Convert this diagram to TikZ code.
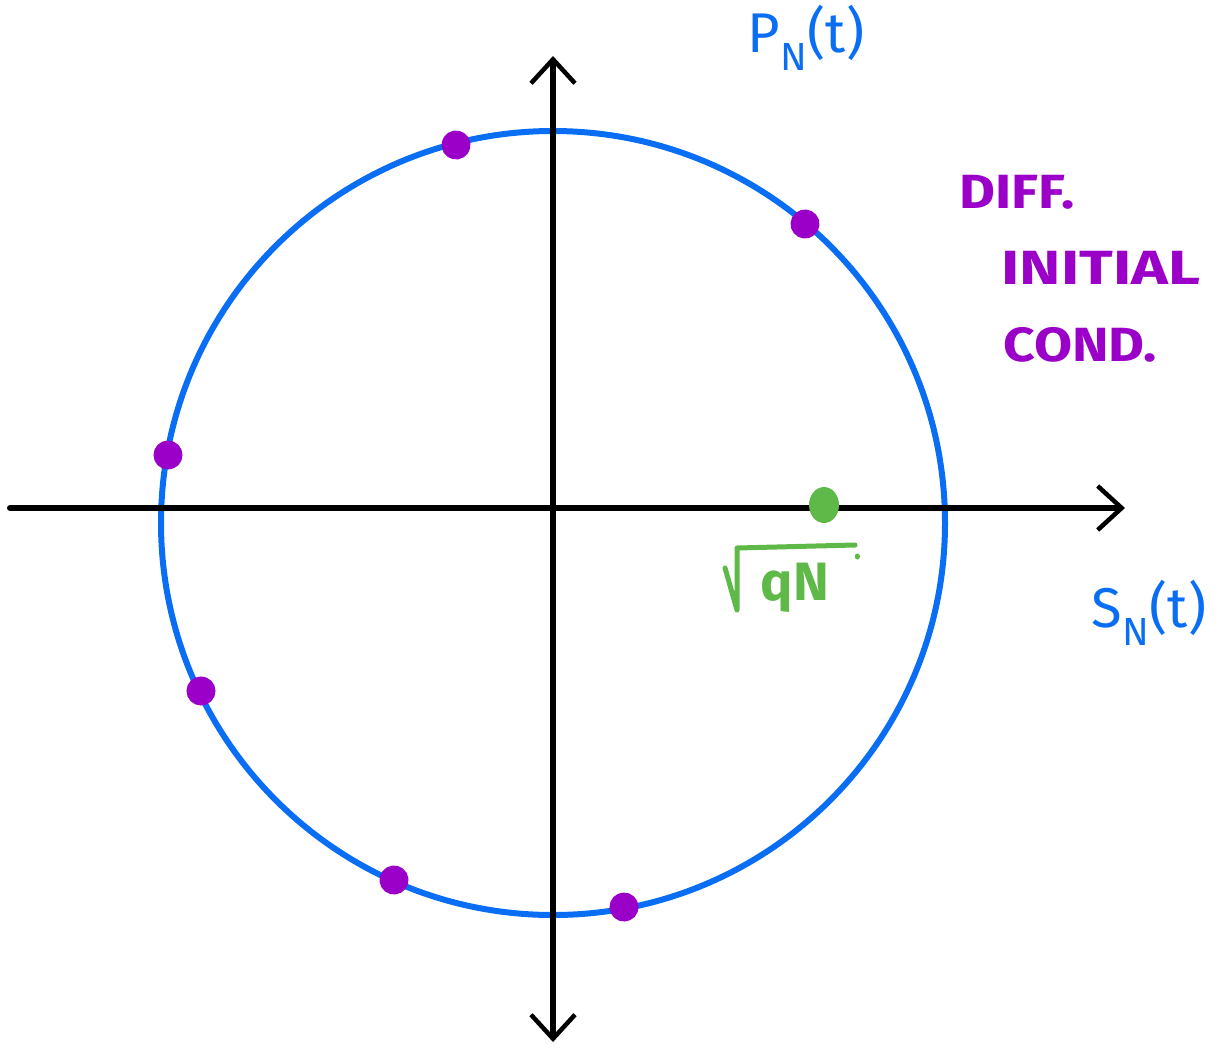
\documentclass[tikz,border=0pt]{standalone}
\usepackage{fontspec}
\usepackage{graphicx}
\setmainfont{Fira Sans}
\usetikzlibrary{arrows.meta,shapes.geometric}
\definecolor{penblue}{RGB}{10,110,245}
\definecolor{penpurple}{RGB}{155,0,200}
\definecolor{pengreen}{RGB}{95,185,72}
\tikzset{
  axis/.style={line width=6pt, black, line cap=round, -{Straight Barb[length=24pt,width=44pt,line width=4.5pt]}},
  ring/.style={line width=6pt, penblue},
  dot/.style={circle, fill=penpurple, draw=penpurple, line width=3pt, inner sep=0pt, minimum width=22pt, minimum height=26pt},
  gdot/.style={ellipse, fill=pengreen, inner sep=0pt, minimum width=30pt, minimum height=36pt},
  bluelabel/.style={text=penblue, font=\fontsize{56}{60}\selectfont},
  purplelabel/.style={text=penpurple, font=\fontsize{48}{52}\selectfont\bfseries},
  greenpen/.style={draw=pengreen, line width=5pt, line cap=round, line join=round},
}
\begin{document}
\begin{tikzpicture}[x=1pt,y=-1pt]
\useasboundingbox (0,0) rectangle (1230,1050);
\coordinate (o) at (553,508);
\coordinate (c) at (553,523);
\coordinate (xl) at (10,508);
\coordinate (xr) at (1125,508);
\coordinate (yt) at (553,56);
\coordinate (yb) at (553,1042);
\draw[ring] (c) circle (392);
\draw[axis] (xl) -- (xr);
\draw[axis] (o) -- (yt);
\draw[axis] (o) -- (yb);
\node[dot, rotate=10] (p1) at (456,145) {};
\node[dot, rotate=40] (p2) at (805,224) {};
\node[dot] (p3) at (168,455) {};
\node[dot] (p4) at (201,691) {};
\node[dot, rotate=30] (p5) at (394,880) {};
\node[dot, rotate=70] (p6) at (624,907) {};
\node[gdot] (g) at (824,505) {};
\node[bluelabel] (pn) at (806,38) {P\textsubscript{N}(t)};
\node[bluelabel] (sn) at (1149,613) {S\textsubscript{N}(t)};
\node[purplelabel, anchor=west] (l1) at (956,192) {\scalebox{1.15}[1]{DIFF.}};
\node[purplelabel, anchor=west] (l2) at (998,268) {\scalebox{1.3}[1]{INITIAL}};
\node[purplelabel, anchor=west] (l3) at (1000,345) {\scalebox{1.15}[1]{COND.}};
\node[text=pengreen, font=\fontsize{54}{58}\selectfont\bfseries] (sq) at (795,588) {qN};
\coordinate (r0) at (725,568);
\coordinate (r1) at (737,610);
\coordinate (r2) at (737,548);
\coordinate (r3) at (855,545);
\coordinate (r4) at (857,556);
\draw[greenpen] (r0) -- (r1) -- (r2) -- (r3);
\draw[greenpen] (r4) -- ++(0,1);
\end{tikzpicture}
\end{document}
